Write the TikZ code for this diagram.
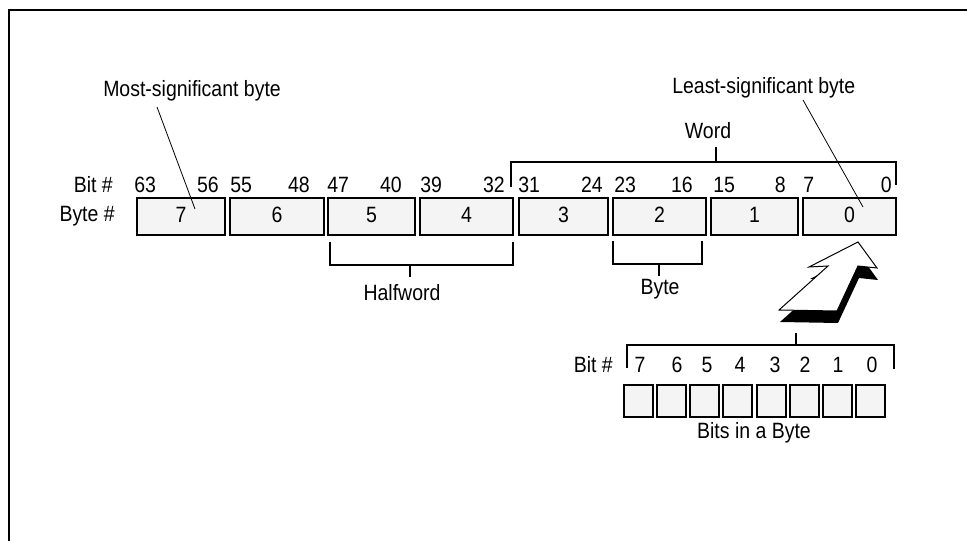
\documentclass[tikz,border=0pt]{standalone}
\usepackage{fontspec}
\setmainfont[FakeStretch=0.88]{Liberation Sans}
\usepackage{tikz}
\usetikzlibrary{positioning, calc}
\definecolor{boxgray}{HTML}{F4F4F4}

\begin{document}
\begin{tikzpicture}[x=0.75pt, y=-0.75pt, font=\fontsize{16.6}{19}\selectfont,
	bytebox/.style={draw, line width=1.5pt, fill=boxgray, inner sep=0pt, outer sep=0pt, minimum height=37*0.75pt, text depth=3pt},
	bitbox/.style={draw, line width=1.5pt, fill=boxgray, inner sep=0pt, outer sep=0pt, minimum width=29*0.75pt, minimum height=32*0.75pt},
	bracket/.style={line width=1.5pt},
	leader/.style={line width=0.6pt},
	lbl/.style={inner sep=0pt, anchor=base}]
				\useasboundingbox (0,0) rectangle (967,541);
				\draw[line width=1.5pt] (8.5,541) -- (8.5,10) -- (967,10);
				
				\node[lbl, anchor=base east] (bitlbl) at (113,193) {Bit \#};
				\node[lbl, anchor=base east] (bytelbl) at (115,222) {Byte \#};
				
				\foreach \n/\lft/\rgt/\hi/\hix/\lo/\lox in {7/137/225/63/134/56/219, 6/230/324/55/230/48/310, 5/328/415/47/327/40/402, 4/420/513/39/420/32/505, 3/519/608/31/518/24/603, 2/613/706/23/614/16/693, 1/711/798/15/713/8/786, 0/803/896/7/803/0/892} {
					\node[bytebox, minimum width={(\rgt-\lft)*0.75pt}] (b\n) at ({(\lft+\rgt)/2},216.5) {\n};
					\node[lbl, anchor=base west] (hi\n) at (\hix,193) {\hi};
					\node[lbl, anchor=base east] (lo\n) at (\lox,193) {\lo};
				}
				
				\node[lbl, anchor=base west] (msb) at (103,97) {Most-significant byte};
				\coordinate (msbq) at (157,107);
				\coordinate (msbp) at (195,209);
				\draw[leader] (msbq) -- (msbp);
				
				\node[lbl, anchor=base west] (lsb) at (672,94) {Least-significant byte};
				\coordinate (lsbq) at (803,100);
				\coordinate (lsbp) at (863,207);
				\draw[leader] (lsbq) -- (lsbp);
				
				\node[lbl] (word) at (708,139) {Word};
				\coordinate (wl) at (511,187);
				\coordinate (wr) at (896,185);
				\coordinate (wm) at (716,162);
				\draw[bracket] (wl) |- (wm) -| (wr);
				\draw[bracket] (wm) -- ++(0,-15);
				
				\node[lbl] (half) at (402,301) {Halfword};
				\coordinate (hl) at (330,242);
				\coordinate (hr) at (513,242);
				\coordinate (hm) at (410,265);
				\draw[bracket] (hl) |- (hm) -| (hr);
				\draw[bracket] (hm) -- ++(0,12);
				
				\node[lbl] (byte) at (660,295) {Byte};
				\coordinate (yl) at (613,241);
				\coordinate (yr) at (702,241);
				\coordinate (ym) at (659,264);
				\draw[bracket] (yl) |- (ym) -| (yr);
				\draw[bracket] (ym) -- ++(0,12);
				
				\fill[shift={(1,12)}] (858,242) -- (877,268) -- (858,266) -- (837,311) -- (779,310) -- (828,266) -- (809,267) -- cycle;
				\draw[line width=0.75pt, fill=white] (858,242) -- (877,268) -- (858,266) -- (837,311) -- (779,310) -- (828,266) -- (809,267) -- cycle;
				
				\coordinate (bl) at (627,368);
				\coordinate (br) at (894,369);
				\coordinate (bm) at (796,345);
				\draw[bracket] (bl) |- (bm) -| (br);
				\draw[bracket] (bm) -- ++(0,-12);
				
				\node[lbl, anchor=base east] (bitlbl2) at (613,373) {Bit \#};
				\foreach \b/\x in {7/640, 6/677, 5/707, 4/740, 3/775, 2/805, 1/838, 0/872}
					\node[lbl] (n\b) at (\x,373) {\b};
				\foreach \i in {0,...,7}
					\node[bitbox] (c\i) at ({638.5+33.14*\i},401) {};
				\node[lbl] (bits) at (754,438) {Bits in a Byte};
			\end{tikzpicture}
\end{document}
